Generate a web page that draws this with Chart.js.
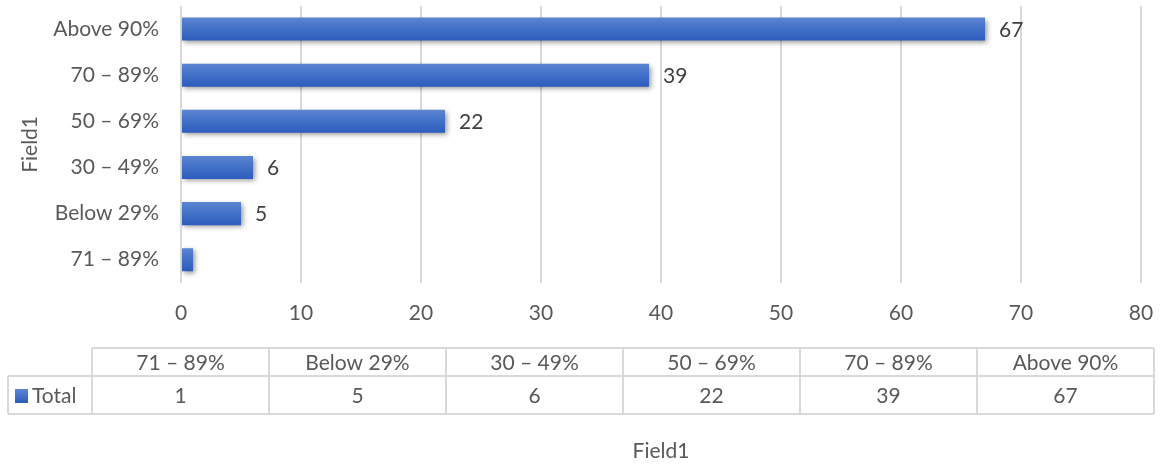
<!DOCTYPE html>
<html>
<head>
<meta charset="utf-8">
<script src="https://cdn.jsdelivr.net/npm/chart.js@4"></script>
<style>
  html,body{margin:0;padding:0;background:#fff;}
  #wrap{width:1161px;height:474px;position:relative;}
</style>
</head>
<body>
<div id="wrap"><canvas id="c" width="1161" height="474"></canvas></div>
<script>
const categories = ['71 – 89%', 'Below 29%', '30 – 49%', '50 – 69%', '70 – 89%', 'Above 90%'];
const totals = [1, 5, 6, 22, 39, 67];
const labelShown = [false, true, true, true, true, true];
const seriesName = 'Total';
const axisTitle = 'Field1';
const xMin = 0, xMax = 80, xStep = 10;

const FONT = 'Lato, "Open Sans", sans-serif';
const FS = 21;
const TXT = '#595959';
const GRID = '#D9D9D9';

function barGradient(ctx) {
  const chart = ctx.chart;
  const y = chart.scales.y;
  if (!y || !chart.chartArea || ctx.dataIndex === undefined) return '#4472C4';
  const c = y.getPixelForValue(ctx.dataIndex);
  if (!isFinite(c)) return '#4472C4';
  const h = 12;
  const g = chart.ctx.createLinearGradient(0, c - h, 0, c + h);
  g.addColorStop(0, '#5E86D2');
  g.addColorStop(0.5, '#4170C8');
  g.addColorStop(1, '#2C5CBC');
  return g;
}

const shadowPlugin = {
  id: 'shadow',
  beforeDatasetsDraw(chart) {
    const ctx = chart.ctx;
    ctx.save();
    ctx.shadowColor = 'rgba(0,0,0,0.40)';
    ctx.shadowBlur = 5;
    ctx.shadowOffsetX = 2;
    ctx.shadowOffsetY = 2;
  },
  afterDatasetsDraw(chart) {
    chart.ctx.restore();
    const ctx = chart.ctx;
    const meta = chart.getDatasetMeta(0);
    ctx.save();
    ctx.font = FS + 'px ' + FONT;
    ctx.fillStyle = '#404040';
    ctx.textAlign = 'left';
    ctx.textBaseline = 'middle';
    meta.data.forEach((bar, i) => {
      if (labelShown[i]) ctx.fillText(String(totals[i]), bar.x + 14, bar.y + 1);
    });
    ctx.restore();
  }
};

const tablePlugin = {
  id: 'dataTable',
  afterDraw(chart) {
    const ctx = chart.ctx;
    const tx0 = 8, tx1 = 92, tx2 = 1154;
    const yh0 = 348, yh1 = 376, yd1 = 414;
    const n = categories.length;
    const cw = (tx2 - tx1) / n;
    ctx.save();
    ctx.strokeStyle = GRID;
    ctx.lineWidth = 2;
    ctx.beginPath();
    ctx.moveTo(tx1, yh0); ctx.lineTo(tx2, yh0);
    ctx.moveTo(tx0, yh1); ctx.lineTo(tx2, yh1);
    ctx.moveTo(tx0, yd1); ctx.lineTo(tx2, yd1);
    ctx.moveTo(tx0, yh1); ctx.lineTo(tx0, yd1);
    for (let i = 0; i <= n; i++) {
      const x = tx1 + i * cw;
      ctx.moveTo(x, yh0); ctx.lineTo(x, yd1);
    }
    ctx.stroke();
    ctx.font = FS + 'px ' + FONT;
    ctx.fillStyle = TXT;
    ctx.textAlign = 'center';
    ctx.textBaseline = 'middle';
    for (let i = 0; i < n; i++) {
      const cx = tx1 + (i + 0.5) * cw;
      ctx.fillText(categories[i], cx, (yh0 + yh1) / 2 + 1);
      ctx.fillText(String(totals[i]), cx, (yh1 + yd1) / 2 + 1);
    }
    const g = ctx.createLinearGradient(0, 389, 0, 403);
    g.addColorStop(0, '#5E86D2');
    g.addColorStop(1, '#2C5CBC');
    ctx.fillStyle = g;
    ctx.fillRect(15, 389, 13, 14);
    ctx.fillStyle = TXT;
    ctx.textAlign = 'left';
    ctx.fillText(seriesName, 32, (yh1 + yd1) / 2 + 1);
    ctx.textAlign = 'center';
    ctx.fillText(axisTitle, 661, 451);
    ctx.restore();
  }
};

new Chart(document.getElementById('c'), {
  type: 'bar',
  data: {
    labels: categories,
    datasets: [{
      label: seriesName,
      data: totals,
      backgroundColor: barGradient,
      borderWidth: 0,
      categoryPercentage: 1,
      barPercentage: 0.5
    }]
  },
  options: {
    indexAxis: 'y',
    responsive: false,
    animation: false,
    devicePixelRatio: 1,
    layout: { padding: { top: 6, right: 20, bottom: 130, left: 0 } },
    plugins: { legend: { display: false }, tooltip: { enabled: false } },
    scales: {
      x: {
        min: xMin, max: xMax,
        ticks: { stepSize: xStep, color: TXT, font: { family: FONT, size: FS }, padding: 18 },
        grid: { color: GRID, lineWidth: 2, drawTicks: false },
        border: { display: false },
        afterFit(scale) { scale.paddingLeft = 0; scale.paddingRight = 0; }
      },
      y: {
        reverse: true,
        ticks: { color: TXT, font: { family: FONT, size: FS }, padding: 22 },
        grid: { display: false, drawTicks: false },
        border: { display: false },
        title: { display: true, text: axisTitle, color: TXT, font: { family: FONT, size: FS }, padding: { top: 18, bottom: 0 } },
        afterFit(scale) { scale.width = 181; scale.paddingTop = 0; scale.paddingBottom = 0; }
      }
    }
  },
  plugins: [shadowPlugin, tablePlugin]
});
</script>
</body>
</html>
